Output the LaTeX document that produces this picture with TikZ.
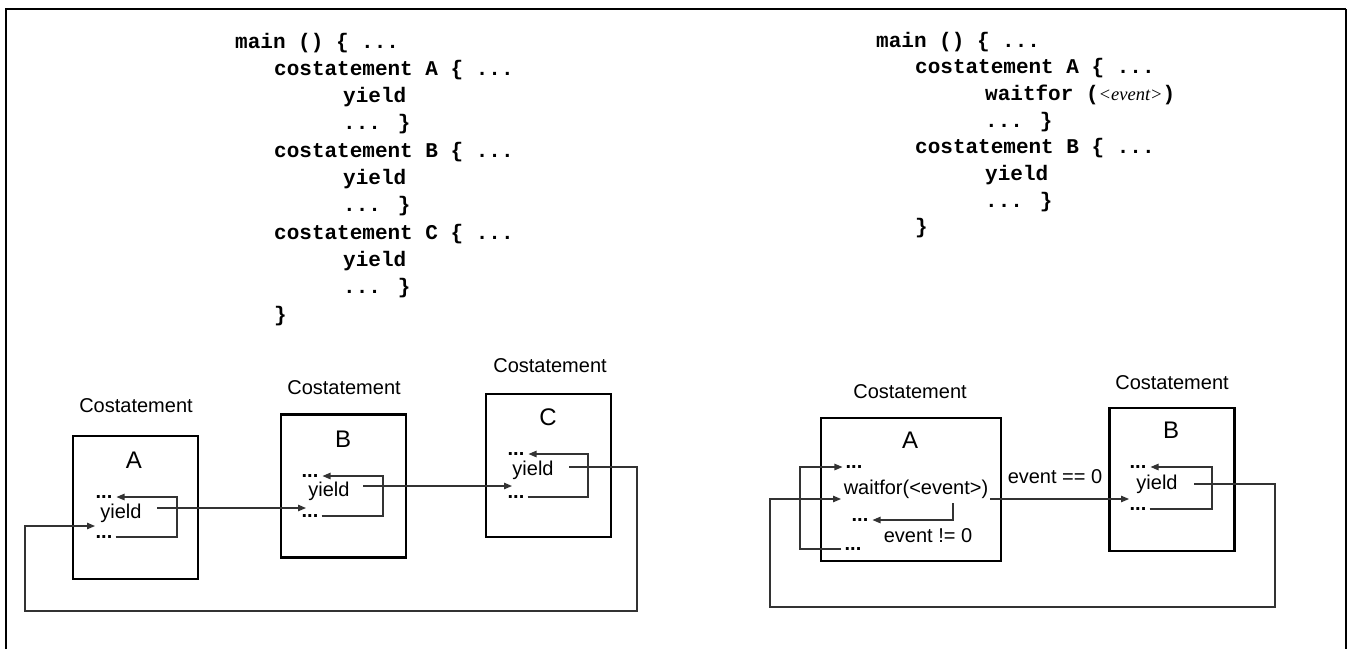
\documentclass[tikz,border=0pt]{standalone}
\usepackage{fontspec}
\setmainfont{Liberation Sans}
\newfontfamily\codefont{Liberation Mono}
\newfontfamily\serfont{Liberation Serif}
\usetikzlibrary{arrows.meta}
\tikzset{
  box/.style={draw=black, line width=2.2pt, minimum width=125pt, minimum height=143pt, inner sep=0},
  lab/.style={inner sep=0, font=\fontsize{20}{24}\selectfont},
  dots/.style={inner sep=0, font=\fontsize{20}{24}\selectfont\bfseries},
  big/.style={inner sep=0, font=\fontsize{24}{28}\selectfont},
  code/.style={inner sep=0, anchor=base west, font={\codefont\fontsize{21}{25}\selectfont\bfseries}},
  ln/.style={draw=black!80, line width=1.1pt},
  arr/.style={ln, -{Triangle[length=8pt,width=6.5pt]}},
}
\begin{document}
\begin{tikzpicture}[x=1pt,y=-1pt]
\useasboundingbox (0,0) rectangle (1348,649);
% outer frame
\draw[line width=2.6pt] (6,649) -- (6,9) -- (1346,9);
\draw[line width=1.2pt] (1346,9) -- (1346,649);

% ---------- left code ----------
\node[code] (lc1) at (235,48) {main () \{ ...};
\node[code] (lc2) at (274,75.3) {costatement A \{ ...};
\node[code] (lc3) at (343,102.6) {yield};
\node[code] (lc4) at (343,129.9) {... \}};
\node[code] (lc5) at (274,157.2) {costatement B \{ ...};
\node[code] (lc6) at (343,184.5) {yield};
\node[code] (lc7) at (343,211.8) {... \}};
\node[code] (lc8) at (274,239.1) {costatement C \{ ...};
\node[code] (lc9) at (343,266.4) {yield};
\node[code] (lc10) at (343,293.7) {... \}};
\node[code] (lc11) at (274,321) {\}};

% ---------- right code ----------
\node[code] (rc1) at (876,47) {main () \{ ...};
\node[code] (rc2) at (915,73.7) {costatement A \{ ...};
\node[code] (rc3) at (985,100.4) {waitfor (\mbox{\serfont\itshape\mdseries\fontsize{18.5}{20}\selectfont <event>})};
\node[code] (rc4) at (985,127.1) {... \}};
\node[code] (rc5) at (915,153.8) {costatement B \{ ...};
\node[code] (rc6) at (985,180.5) {yield};
\node[code] (rc7) at (985,207.2) {... \}};
\node[code] (rc8) at (915,233.9) {\}};

% ---------- left diagram ----------
% box A
\node[box] (bA) at (135.5,507.5) {};
\node[lab] (cA) at (136,406) {Costatement};
\node[big] (lA) at (134,460) {A};
\node[dots] (tA) at (104,497) {...};
\node[lab] (yA) at (121,513) {yield};
\node[dots] (dA) at (104,537) {...};
% box B
\node[box] (bB) at (343.5,486) {};
\node[lab] (cB) at (344,388) {Costatement};
\node[big] (lB) at (343,439) {B};
\node[dots] (tB) at (310,476) {...};
\node[lab] (yB) at (329,491) {yield};
\node[dots] (dB) at (310,516) {...};
% box C
\node[box] (bC) at (548.5,465.5) {};
\node[lab] (cC) at (550,366) {Costatement};
\node[big] (lC) at (548,417) {C};
\node[dots] (tC) at (516,454) {...};
\node[lab] (yC) at (533,470) {yield};
\node[dots] (dC) at (516,497) {...};

\coordinate (xA) at (177,0);
\coordinate (xB) at (383,0);
\coordinate (xC) at (588,0);
\coordinate (oA) at (157,508);
\coordinate (iB) at (306,508);
\coordinate (oB) at (363,486);
\coordinate (iC) at (512,486);
\coordinate (oC) at (569,467);
\coordinate (iA) at (95,526);
\coordinate (rR) at (637,611);
\coordinate (rL) at (25,611);

\draw[arr, shorten <=3pt, shorten >=4pt] (dA.east) -- (dA.east -| xA) -- (tA.east -| xA) -- (tA.east);
\draw[arr, shorten <=3pt, shorten >=4pt] (dB.east) -- (dB.east -| xB) -- (tB.east -| xB) -- (tB.east);
\draw[arr, shorten <=3pt, shorten >=4pt] (dC.east) -- (dC.east -| xC) -- (tC.east -| xC) -- (tC.east);
\draw[arr] (oA) -- (iB);
\draw[arr] (oB) -- (iC);
\draw[arr] (oC) -| (rR) -- (rL) |- (iA);

% ---------- right diagram ----------
\node[box, minimum width=180pt] (rA) at (911,489.5) {};
\node[lab] (rcA) at (910,392) {Costatement};
\node[big] (rlA) at (910,440) {A};
\node[dots] (rtA) at (854,467) {...};
\node[lab] (wf) at (916,489) {waitfor(<event>)};
\node[dots] (rmA) at (860,520) {...};
\node[lab] (ne) at (928,536) {event != 0};
\node[dots] (rdA) at (853,549) {...};
\node[lab] (eq) at (1055,477) {event == 0};

\node[box] (rB) at (1172,479.5) {};
\node[lab] (rcB) at (1172,383) {Costatement};
\node[big] (rlB) at (1171,430) {B};
\node[dots] (rtB) at (1138,467) {...};
\node[lab] (ryB) at (1157,484) {yield};
\node[dots] (rdB) at (1138,509) {...};

\coordinate (xR1) at (800,0);
\coordinate (xRB) at (1212,0);
\coordinate (wfd) at (953,503);
\coordinate (owf) at (990,499);
\coordinate (irB) at (1129,499);
\coordinate (orB) at (1194,484);
\coordinate (iwf) at (841,499);
\coordinate (r2R) at (1275,607);
\coordinate (r2L) at (770,607);

\draw[arr, shorten <=3pt, shorten >=3pt] (rdA.west) -- (rdA.west -| xR1) -- (rtA.west -| xR1) -- (rtA.west);
\draw[arr, shorten >=4pt] (wfd) |- (rmA.east);
\draw[arr] (owf) -- (irB);
\draw[arr, shorten <=3pt, shorten >=4pt] (rdB.east) -- (rdB.east -| xRB) -- (rtB.east -| xRB) -- (rtB.east);
\draw[arr] (orB) -| (r2R) -- (r2L) |- (iwf);
\end{tikzpicture}
\end{document}
